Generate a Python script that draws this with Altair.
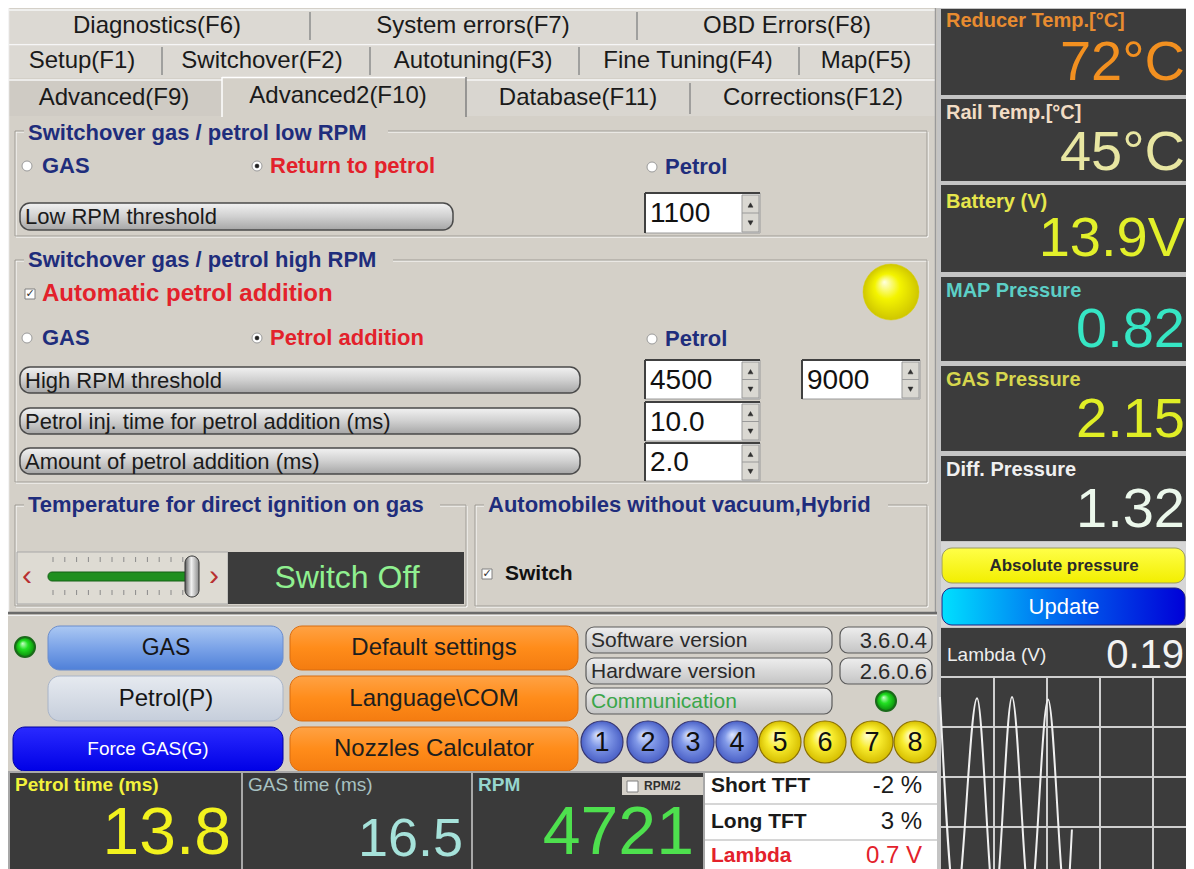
import altair as alt
import pandas as pd

# ---------------- values ----------------
TABS_ROW1 = ["Diagnostics(F6)", "System errors(F7)", "OBD Errors(F8)"]
TABS_ROW2 = ["Setup(F1)", "Switchover(F2)", "Autotuning(F3)", "Fine Tuning(F4)", "Map(F5)"]
TABS_ROW3 = ["Advanced(F9)", "Advanced2(F10)", "Database(F11)", "Corrections(F12)"]

GROUP_TITLES = ["Switchover gas / petrol low RPM", "Switchover gas / petrol high RPM",
                "Temperature for direct ignition on gas", "Automobiles without vacuum,Hybrid"]
MODE_LOW = ["GAS", "Return to petrol", "Petrol"]
MODE_HIGH = ["GAS", "Petrol addition", "Petrol"]
PARAM_LABELS = ["Low RPM threshold", "High RPM threshold",
                "Petrol inj. time for petrol addition (ms)", "Amount of petrol addition (ms)"]
SPIN_VALUES = ["1100", "4500", "9000", "10.0", "2.0"]
AUTO_ADD_LABEL = "Automatic petrol addition"
SLIDER_STATE = "Switch Off"
HYBRID_LABEL = "Switch"

BUTTONS_LEFT = ["GAS", "Petrol(P)", "Force GAS(G)"]
BUTTONS_MID = ["Default settings", "Language\\COM", "Nozzles Calculator"]
INFO_LABELS = ["Software version", "Hardware version", "Communication"]
INFO_VALUES = ["3.6.0.4", "2.6.0.6"]
INJECTORS = ["1", "2", "3", "4", "5", "6", "7", "8"]

READOUT_LABELS = ["Petrol time (ms)", "GAS time (ms)", "RPM"]
READOUT_VALUES = ["13.8", "16.5", "4721"]
RPM_HALF = "RPM/2"
TRIM_LABELS = ["Short TFT", "Long TFT", "Lambda"]
TRIM_VALUES = ["-2 %", "3 %", "0.7 V"]

GAUGE_LABELS = ["Reducer Temp.[°C]", "Rail Temp.[°C]", "Battery (V)",
                "MAP Pressure", "GAS Pressure", "Diff. Pressure"]
GAUGE_VALUES = ["72°C", "45°C", "13.9V", "0.82", "2.15", "1.32"]
PRESSURE_BUTTON = "Absolute pressure"
UPDATE_BUTTON = "Update"
LAMBDA_LABEL = "Lambda (V)"
LAMBDA_NOW = "0.19"

# lambda oscilloscope trace: time (ms) and sensor voltage (V)
LAMBDA_T = [-2, 28, 68, 101, 134, 168, 202, 236, 247]
LAMBDA_V = [0.92, 0.08, 0.915, 0.08, 0.92, 0.085, 0.91, 0.08, 0.39]
SCOPE_T_GRID = [100, 200, 300, 400]
SCOPE_V_GRID = [1.0, 0.8, 0.6, 0.4]

# ---------------- frame ----------------
W, H = 1178, 861
X0, X1, Y0, Y1 = 8, 1186, 8, 869
FONT = "Liberation Sans"
PANEL = "#d4d0c8"
DARK = "#3c3c3c"
NAVY = "#1f2d7c"
RED = "#e3212b"
NONE = "transparent"
INK = "#1a1a1a"


def cx(p):
    return (p - X0) * W / (X1 - X0)


def cy(p):
    return (p - Y0) * H / (Y1 - Y0)


def xs():
    return alt.Scale(domain=[X0, X1], nice=False, zero=False)


def ys():
    return alt.Scale(domain=[Y0, Y1], nice=False, zero=False, reverse=True)


def grad(stops, horizontal=False):
    return alt.LinearGradient(
        gradient="linear",
        stops=[alt.GradientStop(color=c, offset=o) for o, c in stops],
        x1=0, y1=0, x2=1 if horizontal else 0, y2=0 if horizontal else 1)


def rgrad(stops):
    return alt.RadialGradient(
        gradient="radial",
        stops=[alt.GradientStop(color=c, offset=o) for o, c in stops],
        x1=0.38, y1=0.32, r1=0, x2=0.5, y2=0.5, r2=0.5)


layers = []


def rects(rows, radius=0, fill=None, sw=1.0):
    df = pd.DataFrame(rows, columns=["x0", "y0", "x1", "y1", "fill", "stroke"])
    mk = dict(cornerRadius=radius, strokeWidth=sw)
    enc = dict(x=alt.X("x0:Q", scale=xs(), axis=None), x2=alt.X2("x1"),
               y=alt.Y("y0:Q", scale=ys(), axis=None), y2=alt.Y2("y1"),
               stroke=alt.Stroke("stroke:N", scale=None))
    if fill is None:
        enc["fill"] = alt.Fill("fill:N", scale=None)
    else:
        mk["fill"] = fill
    layers.append(alt.Chart(df).mark_rect(**mk).encode(**enc))


def lines(rows):
    df = pd.DataFrame(rows, columns=["x0", "y0", "x1", "y1", "color", "w"])
    layers.append(alt.Chart(df).mark_rule().encode(
        x=alt.X("x0:Q", scale=xs(), axis=None), x2=alt.X2("x1"),
        y=alt.Y("y0:Q", scale=ys(), axis=None), y2=alt.Y2("y1"),
        color=alt.Color("color:N", scale=None),
        strokeWidth=alt.StrokeWidth("w:Q", scale=None)))


def texts(rows, align="left", weight="normal", baseline="middle", font=FONT):
    df = pd.DataFrame(rows, columns=["x", "y", "t", "s", "c"])
    layers.append(alt.Chart(df).mark_text(
        align=align, baseline=baseline, fontWeight=weight, font=font).encode(
        x=alt.X("x:Q", scale=xs(), axis=None), y=alt.Y("y:Q", scale=ys(), axis=None),
        text=alt.Text("t:N"), size=alt.Size("s:Q", scale=None),
        color=alt.Color("c:N", scale=None)))


def dots(rows, fill=None, sw=1.0, shape="circle"):
    df = pd.DataFrame(rows, columns=["x", "y", "r", "fill", "stroke"])
    df["s"] = (2 * df["r"]) ** 2
    mk = dict(shape=shape, filled=True, opacity=1, strokeWidth=sw)
    enc = dict(x=alt.X("x:Q", scale=xs(), axis=None), y=alt.Y("y:Q", scale=ys(), axis=None),
               size=alt.Size("s:Q", scale=None), stroke=alt.Stroke("stroke:N", scale=None))
    if fill is None:
        enc["fill"] = alt.Fill("fill:N", scale=None)
    else:
        mk["fill"] = fill
    layers.append(alt.Chart(df).mark_point(**mk).encode(**enc))


# ---------------- left window background and tabs ----------------
rects([(8, 8, 937, 614, PANEL, NONE)])
rects([(9, 9, 935, 43, "#dcd9d3", NONE), (9, 44, 935, 78, "#dcd9d3", NONE),
       (9, 79, 222, 116, "#cfcbc4", NONE), (466, 79, 935, 116, "#d9d6d0", NONE),
       (222, 77, 466, 118, PANEL, NONE)])
HI = "#f6f6f6"
SEP = "#8c8c8c"
lines([(9, 10, 935, 10, HI, 1.5), (9, 44.5, 935, 44.5, HI, 1.5),
       (9, 80, 222, 80, HI, 1.5), (466, 80, 935, 80, HI, 1.5),
       (222, 77.5, 466, 77.5, "#ffffff", 1.5), (222, 77, 222, 117, "#ffffff", 1.5),
       (466, 77, 466, 117, "#808080", 1.5),
       (310, 12, 310, 40, SEP, 1.5), (637, 12, 637, 40, SEP, 1.5),
       (162, 47, 162, 75, SEP, 1.5), (370, 47, 370, 75, SEP, 1.5),
       (579, 47, 579, 75, SEP, 1.5), (799, 47, 799, 75, SEP, 1.5),
       (690, 83, 690, 114, SEP, 1.5),
       (935.5, 8, 935.5, 614, "#9a9a9a", 1.5), (8.5, 8, 8.5, 614, "#f4f4f4", 1.5)])
TAB1_X = [157, 473, 787]
TAB2_X = [82, 262, 473, 688, 866]
TAB3_X = [114, 338, 578, 813]
TAB3_Y = [98, 96, 98, 98]
texts([(x, 26, t, 24, INK) for x, t in zip(TAB1_X, TABS_ROW1)]
      + [(x, 61, t, 24, INK) for x, t in zip(TAB2_X, TABS_ROW2)]
      + [(x, y, t, 24, INK) for x, y, t in zip(TAB3_X, TAB3_Y, TABS_ROW3)], align="center")

# ---------------- group boxes ----------------
GROUPS = [(15, 131, 927, 236), (15, 260, 927, 482), (15, 505, 466, 606), (475, 505, 927, 606)]
rects([(a + 1, b + 1, c + 1, d + 1, NONE, "#ffffff") for a, b, c, d in GROUPS])
rects([(a, b, c, d, NONE, "#a09d96") for a, b, c, d in GROUPS])
rects([(24, 121, 388, 145, PANEL, NONE), (24, 249, 393, 271, PANEL, NONE),
       (24, 494, 440, 516, PANEL, NONE), (484, 494, 888, 516, PANEL, NONE)])
TITLE_POS = [(28, 133), (28, 260), (28, 505), (488, 505)]
texts([(p[0], p[1], t, 22, NAVY) for p, t in zip(TITLE_POS, GROUP_TITLES)], weight="bold")

# radio buttons
RADIO_X = [27, 257, 652]
LABEL_X = [42, 270, 665]
MODE_COL = [NAVY, RED, NAVY]
rows = []
for y, labels in [(166, MODE_LOW), (338, MODE_HIGH)]:
    for x, t, c in zip(LABEL_X, labels, MODE_COL):
        rows.append((x, y if x != 665 else y + 1, t, 22, c))
rows.append((42, 294, AUTO_ADD_LABEL, 24, RED))
rows.append((505, 574, HYBRID_LABEL, 21, "#111111"))
texts(rows, weight="bold")
dots([(x, y if x != 652 else y + 1, 5, "#ffffff", "#9a9a9a") for y in (166, 338) for x in RADIO_X], sw=1)
dots([(257, 166, 2, "#202020", "#202020"), (257, 338, 2, "#202020", "#202020")], sw=0.5)

# check boxes
rects([(25, 289, 35, 299, "#ffffff", "#808080"), (482, 569, 492, 579, "#ffffff", "#808080")])
texts([(30, 294, "✓", 11, "#303030"), (487, 574, "✓", 11, "#303030")],
      align="center", weight="bold", font="DejaVu Sans")

# big yellow indicator
dots([(891, 292, 28, "", "#d8d000")],
     fill=rgrad([(0, "#ffffe0"), (0.45, "#f4f400"), (1, "#cfc600")]), sw=0.5)

# parameter pills
PILL = [(20, 203, 453, 230), (20, 367, 580, 393), (20, 408, 580, 434), (20, 448, 580, 474)]
rects([(a, b, c, d, "", "#4a4a4a") for a, b, c, d in PILL], radius=10, sw=1.5,
      fill=grad([(0, "#f2f2f2"), (0.5, "#d0d0d0"), (1, "#a6a6a6")]))
texts([(25, (b + d) / 2 + 0.5, t, 22, INK) for (a, b, c, d), t in zip(PILL, PARAM_LABELS)])

# spin boxes
SPIN = [(645, 193, 760, 233), (645, 360, 760, 399), (802, 360, 920, 399),
        (645, 402, 760, 441), (645, 443, 760, 481)]
rects([(a, b, c, d, "#ffffff", "#9a9a9a") for a, b, c, d in SPIN])
rects([(c - 18, b + 2, c - 1, d - 1, "#dad8d2", "#9a9a9a") for a, b, c, d in SPIN])
sl = []
for a, b, c, d in SPIN:
    sl += [(a, b, c, b, "#404040", 2), (a, b, a, d, "#404040", 2),
           (c - 18, (b + d) / 2, c - 1, (b + d) / 2, "#9a9a9a", 1)]
lines(sl)
dots([(c - 9.5, b + (d - b) * 0.3, 2.5, "#303030", "#303030") for a, b, c, d in SPIN],
     shape="triangle-up", sw=0.5)
dots([(c - 9.5, b + (d - b) * 0.75, 2.5, "#303030", "#303030") for a, b, c, d in SPIN],
     shape="triangle-down", sw=0.5)
texts([(a + 5, (b + d) / 2 + 1, v, 28, "#111111") for (a, b, c, d), v in zip(SPIN, SPIN_VALUES)])

# temperature slider
rects([(17, 552, 228, 604, "#dedbd3", "#a8a8a8")])
TICK_X = [53 + 11.8 * i for i in range(12)]
lines([(x, 557, x, 562, "#8a8a8a", 1) for x in TICK_X] + [(x, 590, x, 595, "#8a8a8a", 1) for x in TICK_X])
rects([(48, 572, 192, 581, "#1f8f1f", "#156015")], radius=4)
rects([(185, 556, 199, 597, "", "#303030")], radius=7,
      fill=grad([(0, "#5a5a5a"), (0.45, "#f2f2f2"), (1, "#8a8a8a")], horizontal=True))
texts([(27, 576, "‹", 30, "#b83030"), (214, 576, "›", 30, "#b83030")], align="center")
rects([(228, 552, 464, 604, DARK, NONE)])
texts([(347, 578, SLIDER_STATE, 32, "#90f090")], align="center")

# ---------------- bottom control panel ----------------
rects([(8, 614, 937, 771, PANEL, NONE)])
lines([(8, 613, 937, 613, "#6a6a6a", 2.5), (8, 615.5, 937, 615.5, "#f0f0f0", 1)])
GREEN_LED = rgrad([(0, "#c8ffc8"), (0.45, "#22e022"), (1, "#0c8a0c")])
dots([(25, 647, 10, "", "#1a6a1a"), (886, 701, 10, "", "#1a6a1a")], fill=GREEN_LED, sw=2)

rects([(48, 626, 283, 670, "", "#6a8ccc")], radius=12,
      fill=grad([(0, "#abc8f3"), (0.5, "#7ba3e8"), (1, "#4f80d8")]))
rects([(48, 676, 283, 721, "", "#a8b4c8")], radius=12,
      fill=grad([(0, "#e6eaf0"), (1, "#c6cedb")]))
rects([(13, 727, 283, 771, "", "#0000a0")], radius=12,
      fill=grad([(0, "#2a2aff"), (1, "#0000e6")]))
ORANGE = [(290, 626, 578, 670), (290, 676, 578, 721), (290, 727, 578, 771)]
rects([(a, b, c, d, "", "#d86c10") for a, b, c, d in ORANGE], radius=12,
      fill=grad([(0, "#ffa244"), (0.5, "#ff8c1a"), (1, "#f47c10")]))
texts([(166, 648, BUTTONS_LEFT[0], 23, "#151515"), (166, 699, BUTTONS_LEFT[1], 24, "#151515"),
       (148, 749, BUTTONS_LEFT[2], 19, "#ffffff")]
      + [(434, y, t, 24, "#1e1e1e") for y, t in zip([648, 699, 749], BUTTONS_MID)], align="center")

INFO = [(586, 627, 832, 653), (586, 658, 832, 684), (586, 688, 832, 714),
        (840, 627, 932, 653), (840, 658, 932, 684)]
rects([(a, b, c, d, "", "#5a5a5a") for a, b, c, d in INFO], radius=8, sw=1.2,
      fill=grad([(0, "#eeeeee"), (1, "#c4c4c4")]))
INFO_COL = ["#2a2a2a", "#2a2a2a", "#3aa64a"]
texts([(591, (b + d) / 2 + 0.5, t, 21, c) for (a, b, cc, d), t, c in zip(INFO[:3], INFO_LABELS, INFO_COL)])
texts([(927, (b + d) / 2 + 0.5, t, 22, "#2a2a2a") for (a, b, c, d), t in zip(INFO[3:], INFO_VALUES)],
      align="right")

INJ_X = [602, 648, 693, 737, 780, 825, 872, 915]
dots([(x, 742, 21, "", "#343470") for x in INJ_X[:4]], sw=1.2,
     fill=rgrad([(0, "#dde6ff"), (0.45, "#8199e8"), (1, "#4a60c6")]))
dots([(x, 742, 21, "", "#8a7000") for x in INJ_X[4:]], sw=1.2,
     fill=rgrad([(0, "#ffffd6"), (0.5, "#f8ec2e"), (1, "#d6be00")]))
texts([(x, 743, t, 27, "#101010") for x, t in zip(INJ_X, INJECTORS)], align="center")

# ---------------- bottom read-outs ----------------
rects([(8, 771, 937, 869, "#a8a8a8", NONE)])
rects([(10, 773, 241, 869, "#3a3a3a", NONE), (243, 773, 471, 869, "#3a3a3a", NONE),
       (473, 773, 703, 869, "#3a3a3a", NONE), (705, 773, 937, 869, "#ffffff", NONE)])
texts([(15, 785, READOUT_LABELS[0], 19, "#f2f23c"), (478, 785, READOUT_LABELS[2], 19, "#96d6ce")],
      weight="bold")
texts([(248, 785, READOUT_LABELS[1], 19, "#a8c2c2")])
texts([(231, 854, READOUT_VALUES[0], 66, "#f2f21e"), (463, 856, READOUT_VALUES[1], 54, "#a6e2da"),
       (694, 854, READOUT_VALUES[2], 68, "#4ee04e")], align="right", baseline="alphabetic")
rects([(622, 777, 703, 795, PANEL, NONE)])
rects([(627, 781, 638, 792, "#ffffff", "#808080")])
texts([(644, 786, RPM_HALF, 12, "#303030")], weight="bold")
lines([(705, 804, 937, 804, "#c8c8c8", 1.5), (705, 840, 937, 840, "#c8c8c8", 1.5)])
TRIM_Y = [786, 822, 856]
TRIM_COL = [INK, INK, RED]
texts([(711, y, t, 21, c) for y, t, c in zip(TRIM_Y, TRIM_LABELS, TRIM_COL)], weight="bold")
texts([(922, y, t, 24, c) for y, t, c in zip(TRIM_Y, TRIM_VALUES, TRIM_COL)], align="right")

# ---------------- right gauge column ----------------
rects([(937, 8, 1194, 869, "#c4c4c4", NONE)])
BLOCKS = [(941, 9, 1194, 95), (941, 99, 1194, 181), (941, 185, 1194, 272), (941, 277, 1194, 361),
          (941, 366, 1194, 451), (941, 456, 1194, 541), (941, 628, 1194, 869)]
rects([(a, b, c, d, DARK, NONE) for a, b, c, d in BLOCKS])
rects([(941, 542, 1194, 627, "#d6d6d6", NONE)])
LABEL_Y = [21, 113, 202, 291, 380, 470]
VALUE_Y = [80, 170, 256, 347, 437, 527]
LABEL_COL = ["#e88c30", "#f2dcc4", "#e6e64c", "#5ccfc6", "#d6d64e", "#f0f0f0"]
VALUE_COL = ["#f29020", "#e8e6a2", "#e2f02a", "#36e6c4", "#e0ee26", "#ecf8ec"]
texts([(946, y, t, 20, c) for y, t, c in zip(LABEL_Y, GAUGE_LABELS, LABEL_COL)], weight="bold")
texts([(1185, y, t, 56, c) for y, t, c in zip(VALUE_Y, GAUGE_VALUES, VALUE_COL)],
      align="right", baseline="alphabetic")
rects([(942, 548, 1185, 583, "", "#9a9a60")], radius=10,
      fill=grad([(0, "#ffff48"), (1, "#f2ee00")]))
rects([(942, 588, 1185, 625, "", "#202080")], radius=10,
      fill=grad([(0, "#00e0ff"), (0.45, "#0070f0"), (1, "#0000d8")], horizontal=True))
texts([(1064, 566, PRESSURE_BUTTON, 17, "#2a2a2a")], align="center", weight="bold")
texts([(1064, 607, UPDATE_BUTTON, 22, "#ffffff")], align="center")
texts([(947, 655, LAMBDA_LABEL, 19, "#eeeeee")])
texts([(1184, 668, LAMBDA_NOW, 40, "#f2f2f2")], align="right", baseline="alphabetic")

# ---------------- lambda oscilloscope (own scales) ----------------
scope_x = alt.Scale(domain=[0, 400], range=[cx(941), cx(1153)], nice=False, zero=False)
scope_y = alt.Scale(domain=[0, 1], range=[cy(927), cy(677)], nice=False, zero=False)
hgrid = pd.DataFrame({"v": SCOPE_V_GRID, "t0": [0] * 4, "t1": [480] * 4})
layers.append(alt.Chart(hgrid).mark_rule(color="#cfcfcf", strokeWidth=2, clip=True).encode(
    x=alt.X("t0:Q", scale=scope_x, axis=None), x2=alt.X2("t1"),
    y=alt.Y("v:Q", scale=scope_y, axis=None)))
vgrid = pd.DataFrame({"t": SCOPE_T_GRID, "v0": [1.0] * 4, "v1": [0.0] * 4})
layers.append(alt.Chart(vgrid).mark_rule(color="#cfcfcf", strokeWidth=2, clip=True).encode(
    x=alt.X("t:Q", scale=scope_x, axis=None),
    y=alt.Y("v0:Q", scale=scope_y, axis=None), y2=alt.Y2("v1")))
wave = pd.DataFrame({"t": LAMBDA_T, "v": LAMBDA_V})
layers.append(alt.Chart(wave).mark_line(color="#f0f0f0", strokeWidth=2, interpolate="monotone",
                                        clip=True).encode(
    x=alt.X("t:Q", scale=scope_x, axis=None), y=alt.Y("v:Q", scale=scope_y, axis=None)))

chart = alt.layer(*layers).resolve_scale(x="independent", y="independent").properties(
    width=W, height=H, padding=0, background="white",
    autosize=alt.AutoSizeParams(type="none")).configure_view(stroke=None)

chart.save("out.html", embed_options={"renderer": "svg", "actions": False})
